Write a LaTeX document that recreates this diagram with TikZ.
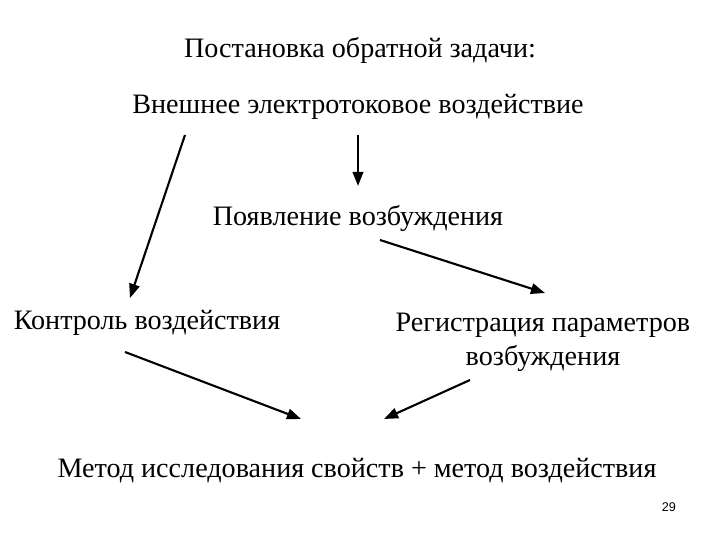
\documentclass[tikz,border=0pt]{standalone}
\usepackage{fontspec}
\setmainfont{Liberation Serif}
\newfontfamily\numfont{Liberation Sans}
\usetikzlibrary{arrows.meta}
\begin{document}
\begin{tikzpicture}[x=0.01cm,y=-0.01cm,
  lbl/.style={font=\fontsize{8}{9.6}\selectfont,inner sep=0pt,align=center},
  arr/.style={line width=0.6pt,-{Triangle[length=4pt,width=3pt]}}]
\useasboundingbox (0,0) rectangle (720,540);
\node[lbl] (t) at (360,50) {Постановка обратной задачи:};
\node[lbl] (a) at (358,107) {Внешнее электротоковое воздействие};
\node[lbl] (b) at (358,218) {Появление возбуждения};
\node[lbl] (c) at (147,323) {Контроль воздействия};
\node[lbl] (d) at (543,342) {Регистрация параметров\\возбуждения};
\node[lbl] (e) at (357,471) {Метод исследования свойств + метод воздействия};
\node[font=\numfont\fontsize{3.6}{4}\selectfont,inner sep=0pt] (n) at (669,507) {29};
\coordinate (a1) at (185,135); \coordinate (c1) at (130,298);
\coordinate (a2) at (358,135); \coordinate (b1) at (358,186);
\coordinate (b2) at (380,240); \coordinate (d1) at (545,293);
\coordinate (c2) at (125,352); \coordinate (e1) at (301,419);
\coordinate (d2) at (470,380); \coordinate (e2) at (384,419);
\draw[arr] (a1) -- (c1);
\draw[arr] (a2) -- (b1);
\draw[arr] (b2) -- (d1);
\draw[arr] (c2) -- (e1);
\draw[arr] (d2) -- (e2);
\end{tikzpicture}
\end{document}
